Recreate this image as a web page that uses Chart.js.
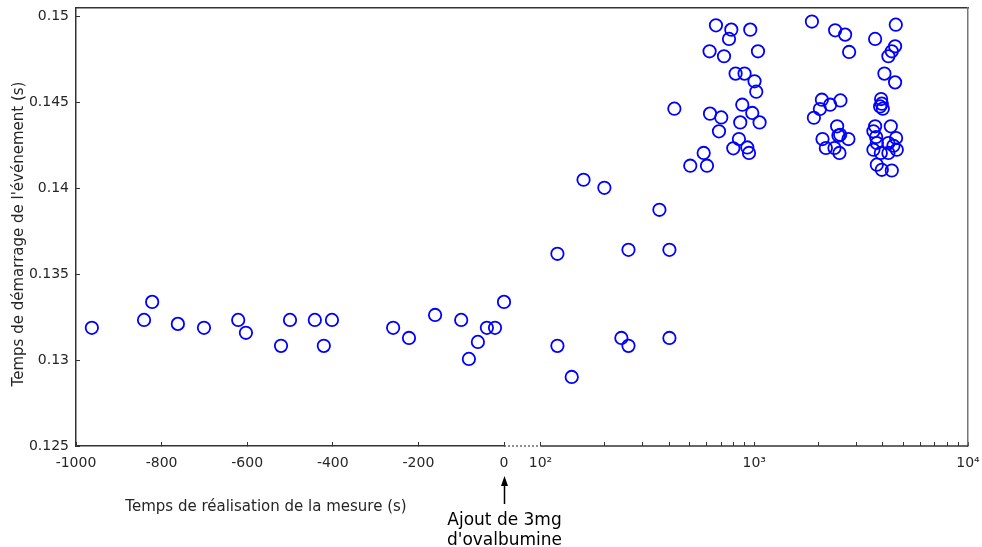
<!DOCTYPE html>
<html lang="fr">
<head>
  <meta charset="UTF-8" />
  <title>Temps de démarrage de l'événement</title>
  <script src="https://cdn.jsdelivr.net/npm/chart.js"></script>
  <style>
    html, body { margin: 0; padding: 0; background: #fff; }
    #wrap { width: 982px; height: 547px; }
  </style>
</head>
<body>
  <div id="wrap"><canvas id="startChart" width="982" height="547"></canvas></div>

  <script>
    // avant l'ajout (axe linéaire, s)
    const beforeTimes = [-963, -841, -822, -762, -701, -621, -603, -521, -500, -442, -421, -402,
      -259, -222, -161, -100, -82, -61, -40, -21, 0];
    const beforeStart = [0.13188, 0.13234, 0.13339, 0.13211, 0.13188, 0.13234, 0.13159, 0.13083,
      0.13234, 0.13234, 0.13083, 0.13234, 0.13188, 0.13129, 0.13263, 0.13234, 0.13007, 0.13106,
      0.13188, 0.13188, 0.13339];

    // après l'ajout (axe log, s)
    const afterTimes = [120, 120, 140, 159, 199, 239, 258, 258, 360, 401, 401, 423,
      502, 580, 601, 618, 621, 662, 684, 701, 722, 762, 781, 798, 818, 848, 860, 879, 901, 928, 945,
      958, 979, 1003, 1022, 1041, 1059,
      1861, 2390, 2662, 2779, 2072, 2531, 2028, 2265, 1901, 2442, 2523, 2477, 2086, 2758, 2163, 2373, 2504,
      4594, 3677, 4559, 4400, 4242, 4064, 4559, 3922, 3951, 3994, 3880, 3677, 4353, 3610, 3717, 4609,
      3745, 4242, 4477, 4643, 3610, 3909, 4242, 3745, 3951, 4400];
    const afterStart = [0.13619, 0.13083, 0.12902, 0.14050, 0.14003, 0.13129, 0.13642, 0.13083, 0.13875, 0.13642, 0.13129, 0.14464,
      0.14132, 0.14206, 0.14132, 0.14798, 0.14435, 0.14949, 0.14332, 0.14413, 0.14769, 0.14870, 0.14924, 0.14233, 0.14668, 0.14287, 0.14384, 0.14487, 0.14668, 0.14238, 0.14206,
      0.14924, 0.14439, 0.14623, 0.14563, 0.14798, 0.14384,
      0.14971, 0.14920, 0.14895, 0.14794, 0.14516, 0.14512, 0.14462, 0.14487, 0.14411, 0.14361, 0.14312, 0.14307, 0.14287, 0.14287, 0.14235, 0.14235, 0.14206,
      0.14953, 0.14870, 0.14827, 0.14798, 0.14769, 0.14668, 0.14617, 0.14520, 0.14493, 0.14464, 0.14477, 0.14361, 0.14361, 0.14332, 0.14299, 0.14293,
      0.14264, 0.14264, 0.14248, 0.14225, 0.14225, 0.14206, 0.14206, 0.14138, 0.14108, 0.14104];

    const yTicks = [0.125, 0.13, 0.135, 0.14, 0.145, 0.15];
    const linTicks = [-1000, -800, -600, -400, -200, 0];
    const logTicks = [100, 200, 300, 400, 500, 600, 700, 800, 900,
      1000, 2000, 3000, 4000, 5000, 6000, 7000, 8000, 9000, 10000];
    const logLabels = { 100: '10²', 1000: '10³', 10000: '10⁴' };

    const FONT = 'DejaVu Sans';
    const AXIS = '#333';
    const TXT = '#262626';

    function toPoints(xs, ys) {
      return xs.map((x, i) => ({ x: x, y: ys[i] }));
    }

    function noPad(s) {
      s.paddingLeft = 0;
      s.paddingRight = 0;
      s.paddingTop = 0;
      s.paddingBottom = 0;
    }

    // titres, annotation et morceau pointillé de l'axe cassé
    const extras = {
      id: 'extras',
      afterDraw(chart) {
        const ctx = chart.ctx;
        const area = chart.chartArea;
        const xl = chart.scales.x;
        const xg = chart.scales.x2;
        const p100 = xg.getPixelForValue(100);
        ctx.save();

        ctx.lineWidth = 1.5;
        ctx.strokeStyle = AXIS;
        ctx.beginPath();
        ctx.moveTo(p100, area.bottom);
        ctx.lineTo(area.right, area.bottom);
        ctx.stroke();

        ctx.strokeStyle = '#555';
        ctx.lineWidth = 1.3;
        ctx.setLineDash([2, 2]);
        ctx.beginPath();
        ctx.moveTo(xg.left, area.bottom);
        ctx.lineTo(p100, area.bottom);
        ctx.stroke();
        ctx.setLineDash([]);

        ctx.fillStyle = TXT;
        ctx.font = '15px "' + FONT + '"';
        ctx.textAlign = 'center';
        ctx.textBaseline = 'middle';
        ctx.fillText('Temps de réalisation de la mesure (s)', 266, 507);

        ctx.save();
        ctx.translate(19, 234);
        ctx.rotate(-Math.PI / 2);
        ctx.fillText("Temps de démarrage de l'événement (s)", 0, 0);
        ctx.restore();

        const x0 = Math.round(xl.getPixelForValue(0)) + 0.5;
        ctx.strokeStyle = '#000';
        ctx.fillStyle = '#000';
        ctx.lineWidth = 1.5;
        ctx.beginPath();
        ctx.moveTo(x0, 504);
        ctx.lineTo(x0, 484);
        ctx.stroke();
        ctx.beginPath();
        ctx.moveTo(x0, 476);
        ctx.lineTo(x0 - 3.5, 486);
        ctx.lineTo(x0 + 3.5, 486);
        ctx.closePath();
        ctx.fill();

        ctx.font = '17px "' + FONT + '"';
        ctx.fillText('Ajout de 3mg', x0, 521);
        ctx.fillText("d'ovalbumine", x0, 541);
        ctx.restore();
      }
    };

    const pointStyle = {
      pointStyle: 'circle',
      pointRadius: 6.2,
      pointHoverRadius: 6.2,
      pointBorderWidth: 1.8,
      borderColor: '#0000ff',
      backgroundColor: 'rgba(0,0,0,0)',
      showLine: false,
      clip: false
    };

    const ctx = document.getElementById('startChart').getContext('2d');
    new Chart(ctx, {
      type: 'scatter',
      data: {
        datasets: [
          Object.assign({ label: 'avant', xAxisID: 'x', yAxisID: 'y', data: toPoints(beforeTimes, beforeStart) }, pointStyle),
          Object.assign({ label: 'après', xAxisID: 'x2', yAxisID: 'y', data: toPoints(afterTimes, afterStart) }, pointStyle)
        ]
      },
      options: {
        responsive: false,
        animation: false,
        events: [],
        layout: { padding: { left: 0, right: 14, top: 8, bottom: 0 } },
        plugins: { legend: { display: false }, tooltip: { enabled: false } },
        scales: {
          x: {
            type: 'linear',
            position: 'bottom',
            stack: 'bas',
            stackWeight: 428,
            min: -1000,
            max: 0,
            afterBuildTicks: s => { s.ticks = linTicks.map(v => ({ value: v })); },
            afterFit: s => { s.height = 101; noPad(s); },
            border: { display: true, color: AXIS, width: 1.5 },
            grid: { drawOnChartArea: false, tickLength: -4, tickColor: AXIS, tickWidth: 1 },
            ticks: {
              autoSkip: false, maxRotation: 0, padding: 13,
              color: TXT, font: { family: FONT, size: 14 },
              callback: v => String(v)
            }
          },
          x2: {
            type: 'logarithmic',
            position: 'bottom',
            stack: 'bas',
            stackWeight: 464,
            min: 67.5,
            max: 10000,
            afterBuildTicks: s => { s.ticks = logTicks.map(v => ({ value: v })); },
            afterFit: s => { s.height = 101; noPad(s); },
            border: { display: false },
            grid: { drawOnChartArea: false, tickLength: -4, tickColor: AXIS, tickWidth: 1 },
            ticks: {
              autoSkip: false, maxRotation: 0, padding: 13,
              color: TXT, font: { family: FONT, size: 14 },
              callback: v => logLabels[v] || ''
            }
          },
          xTop: {
            type: 'linear',
            position: 'top',
            afterFit: s => { s.height = 0; noPad(s); },
            border: { display: true, color: AXIS, width: 1.5 },
            grid: { display: false },
            ticks: { display: false }
          },
          y: {
            type: 'linear',
            position: 'left',
            min: 0.125,
            max: 0.1505,
            afterBuildTicks: s => { s.ticks = yTicks.map(v => ({ value: v })); },
            afterFit: s => { s.width = 76; noPad(s); },
            border: { display: true, color: AXIS, width: 1.5 },
            grid: { drawOnChartArea: false, tickLength: -4, tickColor: AXIS, tickWidth: 1 },
            ticks: {
              padding: 11,
              color: TXT, font: { family: FONT, size: 14 },
              callback: v => String(+v.toFixed(3))
            }
          },
          yRight: {
            type: 'linear',
            position: 'right',
            afterFit: s => { s.width = 0; noPad(s); },
            border: { display: true, color: '#777', width: 1.5 },
            grid: { display: false },
            ticks: { display: false }
          }
        }
      },
      plugins: [extras]
    });
  </script>
</body>
</html>
